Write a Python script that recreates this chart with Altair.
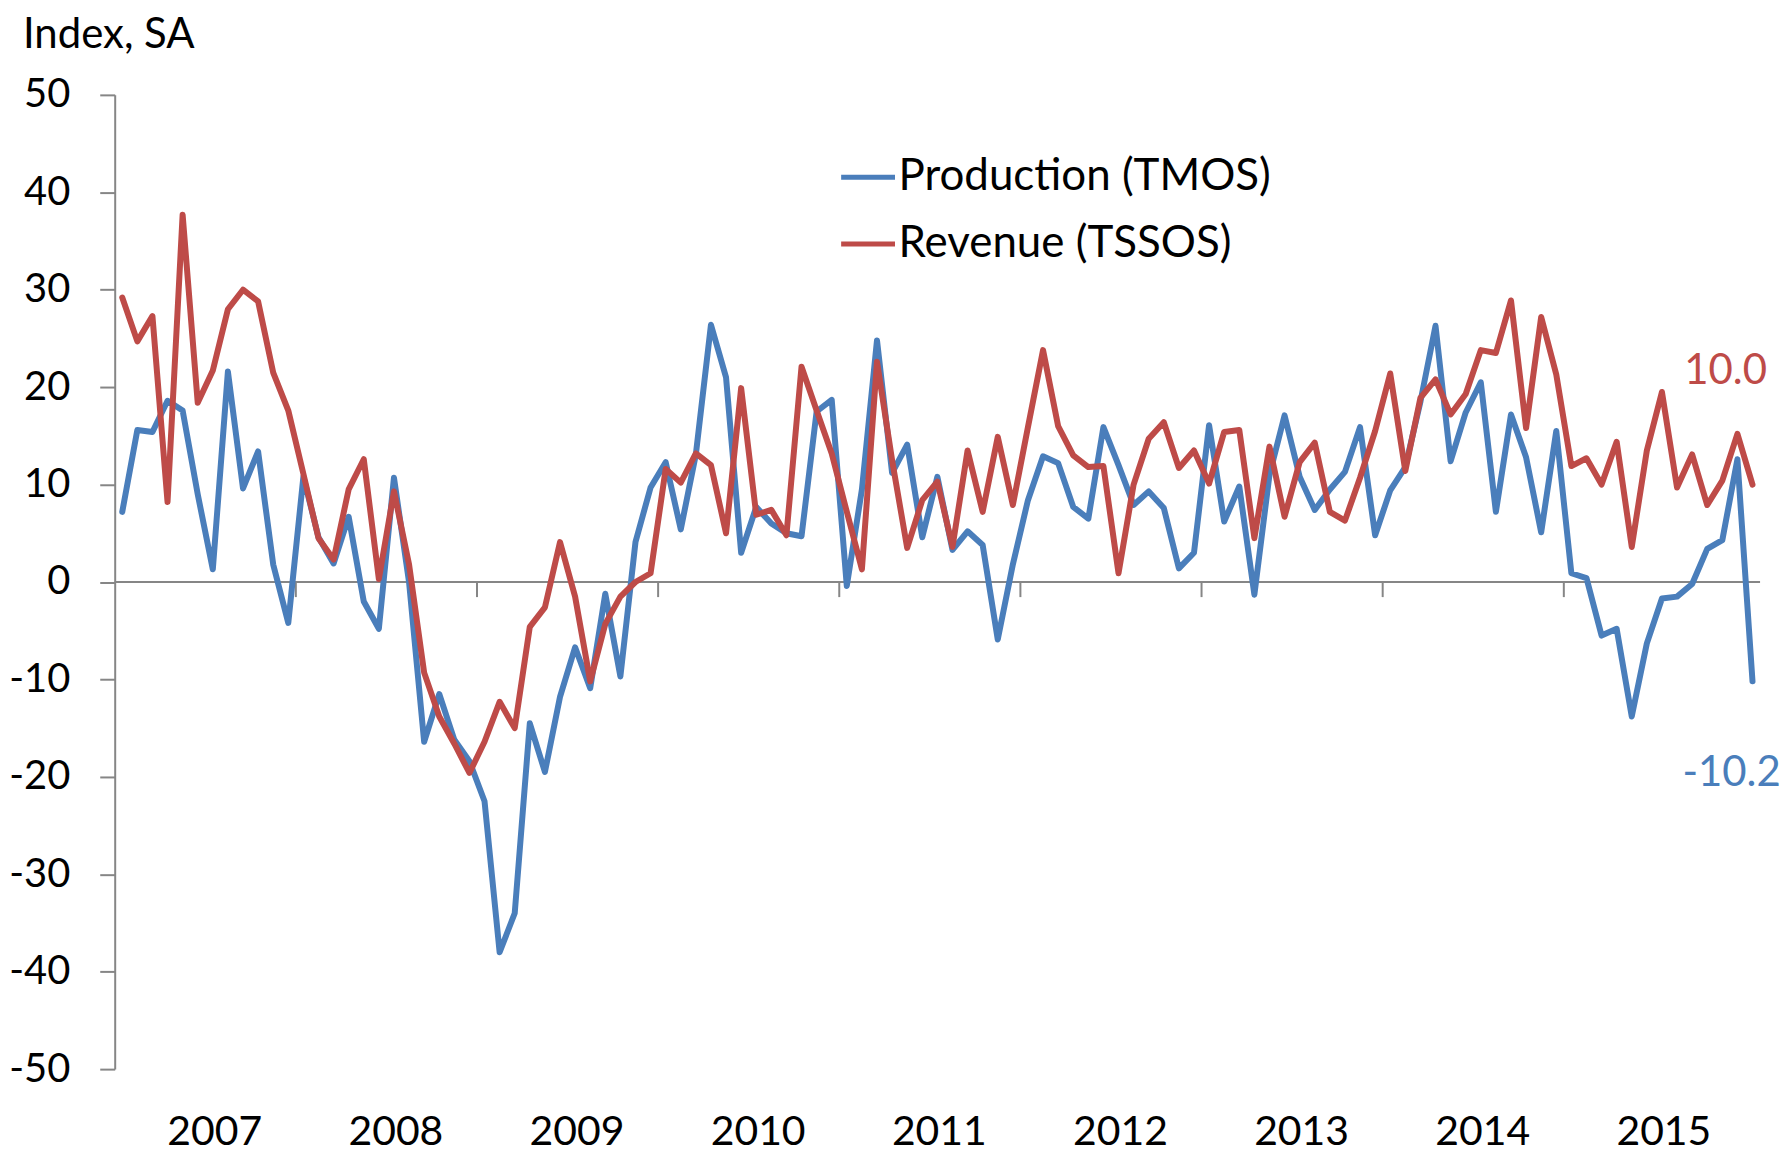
import altair as alt
import pandas as pd

# Monthly values, Jan 2007 - Jan 2016 (index, SA)
production = [
    7.2, 15.6, 15.4, 18.6, 17.6, 9.0, 1.3, 21.6, 9.6, 13.4, 1.8, -4.2,
    10.8, 4.6, 1.9, 6.7, -2.0, -4.8, 10.7, 0.0, -16.4, -11.5, -16.2, -18.4,
    -22.5, -38.0, -34.0, -14.5, -19.5, -11.8, -6.7, -10.9, -1.2, -9.7, 4.1, 9.7,
    12.3, 5.4, 13.1, 26.4, 21.0, 3.0, 7.7, 6.0, 5.0, 4.7, 17.5, 18.7,
    -0.4, 9.5, 24.8, 11.2, 14.1, 4.6, 10.8, 3.3, 5.2, 3.8, -5.9, 1.8,
    8.4, 12.9, 12.2, 7.7, 6.5, 15.9, 12.0, 7.9, 9.3, 7.6, 1.4, 3.0,
    16.1, 6.2, 9.8, -1.3, 11.0, 17.1, 10.8, 7.4, 9.5, 11.3, 15.9, 4.8,
    9.4, 11.8, 18.5, 26.3, 12.4, 17.4, 20.5, 7.2, 17.2, 12.8, 5.1, 15.5,
    0.9, 0.4, -5.5, -4.8, -13.8, -6.3, -1.7, -1.5, -0.2, 3.4, 4.3, 12.6,
    -10.2,
]
revenue = [
    29.2, 24.7, 27.3, 8.2, 37.7, 18.4, 21.7, 28.0, 30.0, 28.8, 21.5, 17.6,
    11.1, 4.5, 2.3, 9.5, 12.6, 0.3, 9.3, 1.8, -9.3, -13.8, -16.6, -19.6,
    -16.4, -12.3, -15.0, -4.6, -2.6, 4.1, -1.5, -10.2, -4.3, -1.5, 0.0, 0.9,
    11.6, 10.2, 13.2, 12.0, 5.0, 19.9, 6.9, 7.4, 4.8, 22.1, 17.6, 13.2,
    7.2, 1.3, 22.6, 12.5, 3.5, 8.4, 10.3, 3.6, 13.5, 7.2, 14.9, 7.9,
    15.9, 23.8, 16.0, 13.0, 11.8, 11.9, 0.9, 10.0, 14.7, 16.4, 11.7, 13.5,
    10.1, 15.4, 15.6, 4.5, 13.9, 6.7, 12.3, 14.3, 7.2, 6.3, 10.7, 15.5,
    21.4, 11.4, 18.9, 20.8, 17.2, 19.3, 23.8, 23.5, 28.9, 15.8, 27.2, 21.3,
    11.9, 12.7, 10.0, 14.4, 3.6, 13.5, 19.5, 9.7, 13.1, 7.9, 10.4, 15.2,
    10.0,
]
years = list(range(2007, 2016))
series_names = ["Production (TMOS)", "Revenue (TSSOS)"]
colors = ["#4A7EBB", "#BE4B48"]
y_ticks = list(range(-50, 51, 10))

n = len(production)
rows = []
for name, vals in zip(series_names, [production, revenue]):
    for i, v in enumerate(vals):
        rows.append({"m": i + 0.5, "series": name, "value": v})
df = pd.DataFrame(rows)

end_df = pd.DataFrame({
    "m": [n - 0.5, n - 0.5],
    "series": series_names,
    "value": [production[-1], revenue[-1]],
    "label": [f"{production[-1]:.1f}", f"{revenue[-1]:.1f}"],
})

tick_df = pd.DataFrame({"m": [12 * k for k in range(1, len(years) + 1)], "value": 0.0, "bot": -1.55})
zero_df = pd.DataFrame({"m": [0], "m1": [n], "value": [0]})

FONT = "Lato"
GRAY = "#868686"
x_scale = alt.Scale(domain=[0, n], nice=False, zero=False)
y_scale = alt.Scale(domain=[-50, 50], nice=False)

x_axis = alt.Axis(
    values=[6 + 12 * k for k in range(len(years))],
    labelExpr="'' + (2007 + floor(datum.value / 12))",
    ticks=False,
    tickSize=0,
    domain=False,
    grid=False,
    labelPadding=76,
    labelOffset=9,
    labelBaseline="alphabetic",
    labelFontSize=41,
    labelFont=FONT,
    labelColor="black",
    title=None,
)
y_axis = alt.Axis(
    values=y_ticks,
    labelExpr="datum.value + ''",
    tickSize=15,
    tickWidth=2,
    tickColor=GRAY,
    domainColor=GRAY,
    domainWidth=2,
    grid=False,
    labelFontSize=40,
    labelFont=FONT,
    labelColor="black",
    labelPadding=30,
    title=None,
)

X = alt.X("m:Q", scale=x_scale, axis=x_axis)
Y = alt.Y("value:Q", scale=y_scale, axis=y_axis)

zero_line = alt.Chart(zero_df).mark_rule(color=GRAY, strokeWidth=2).encode(
    x=X, x2="m1:Q", y=Y,
)

year_ticks = alt.Chart(tick_df).mark_rule(color=GRAY, strokeWidth=2).encode(
    x=X, y=Y, y2="bot:Q",
)

lines = alt.Chart(df).mark_line(strokeWidth=6, strokeCap="round", strokeJoin="round").encode(
    x=X,
    y=Y,
    color=alt.Color(
        "series:N",
        scale=alt.Scale(domain=series_names, range=colors),
        legend=alt.Legend(
            orient="none",
            legendX=726,
            legendY=53,
            title=None,
            symbolType="stroke",
            symbolStrokeWidth=5,
            symbolSize=2916,
            labelFontSize=44,
            labelFont=FONT,
            labelColor="black",
            labelLimit=0,
            labelOffset=1,
            rowPadding=15,
            padding=0,
        ),
    ),
    order=alt.Order("m:Q"),
)

label_prod = alt.Chart(end_df).transform_filter(
    alt.datum.series == series_names[0]
).mark_text(fontSize=42, font=FONT, color=colors[0], align="center", baseline="middle", dx=-21, dy=92).encode(
    x=X, y=Y, text="label:N",
)
label_rev = alt.Chart(end_df).transform_filter(
    alt.datum.series == series_names[1]
).mark_text(fontSize=42, font=FONT, color=colors[1], align="center", baseline="alphabetic", dx=-27, dy=-101).encode(
    x=X, y=Y, text="label:N",
)

unit_label = alt.Chart(pd.DataFrame({"t": ["Index, SA"]})).mark_text(
    fontSize=42, font=FONT, color="black", align="left", baseline="alphabetic"
).encode(x=alt.value(-92), y=alt.value(-47), text="t:N")

chart = alt.layer(zero_line, year_ticks, lines, label_prod, label_rev, unit_label).properties(
    width=1650,
    height=977,
    autosize=alt.AutoSizeParams(type="none"),
    padding={"left": 107, "top": 85.5, "right": 20, "bottom": 84},
    background="white",
).configure_view(stroke=None)

chart.save("out.html", embed_options={"renderer": "svg", "actions": False})
